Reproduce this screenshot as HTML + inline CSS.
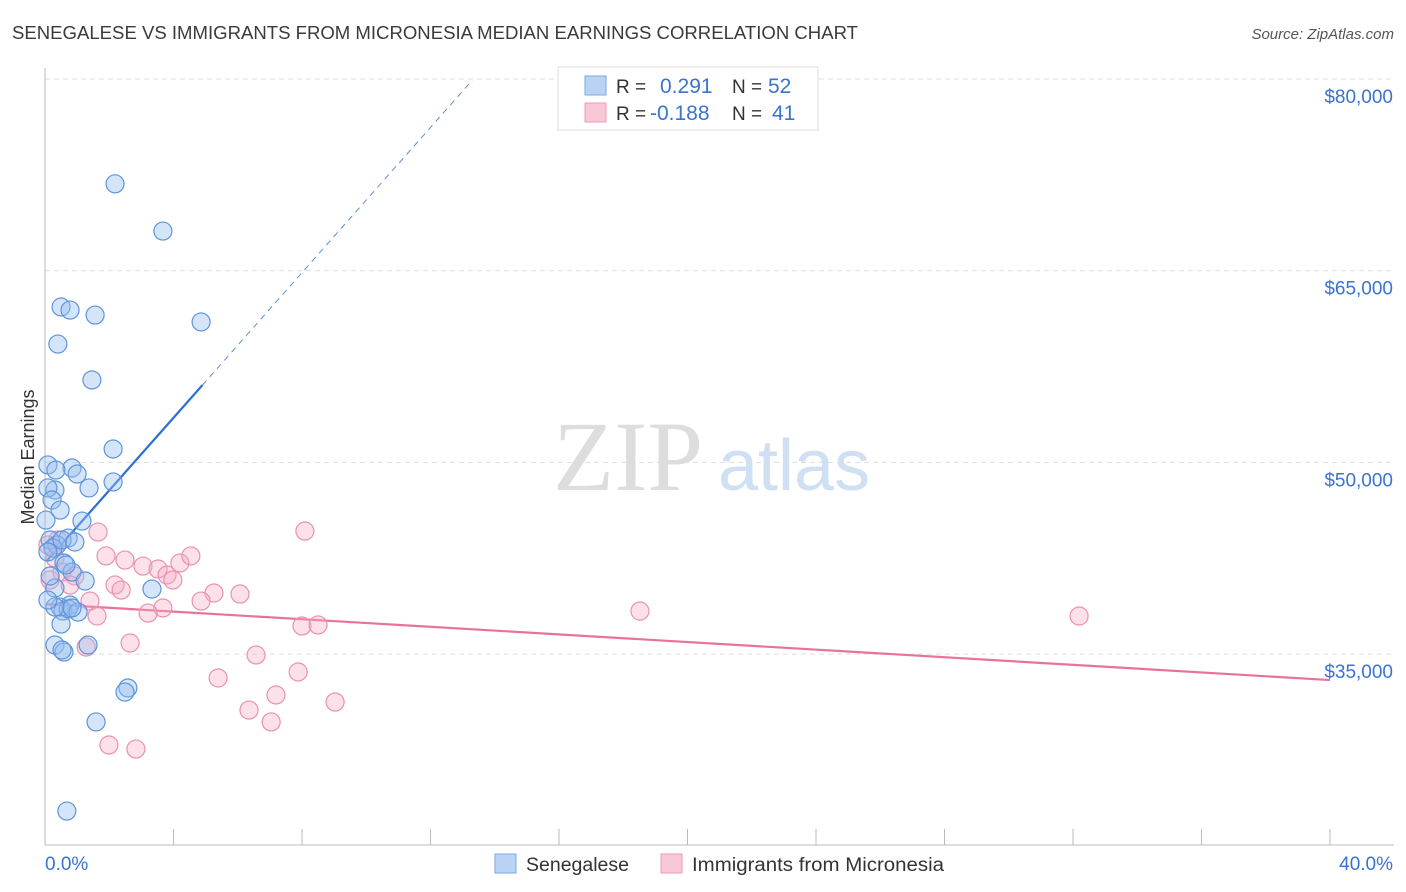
<!DOCTYPE html>
<html><head><meta charset="utf-8"><style>
body{margin:0;background:#fff;font-family:"Liberation Sans",sans-serif;}
svg{display:block}
</style></head><body>
<svg id="chart" width="1406" height="892" xmlns="http://www.w3.org/2000/svg">
<text x="12" y="39" font-size="18" fill="#3a3a3a" textLength="846" lengthAdjust="spacingAndGlyphs">SENEGALESE VS IMMIGRANTS FROM MICRONESIA MEDIAN EARNINGS CORRELATION CHART</text>
<text x="1394" y="39" font-size="15" fill="#555" font-style="italic" text-anchor="end">Source: ZipAtlas.com</text>
<g>
<text x="553" y="490" font-size="100" font-family="Liberation Serif,serif" fill="#ddd">ZIP</text>
<text x="718" y="490" font-size="72" fill="#cfe0f4">atlas</text>
</g>
<g id="grid"></g>
<g id="axes"></g>
<text transform="translate(34,457) rotate(-90)" font-size="18" fill="#333" text-anchor="middle">Median Earnings</text>
<g id="lines"></g>
<g id="pts"></g>
<g>
<rect x="558" y="67" width="260" height="63" fill="#fff" stroke="#ddd"/>
<rect x="585" y="76" width="21" height="19" fill="#b9d3f5" stroke="#7aa8e6"/>
<rect x="585" y="103" width="21" height="19" fill="#f9c8d6" stroke="#ee9ab4"/>
<text x="616" y="93" font-size="19" fill="#333">R = </text>
<text x="660" y="93" font-size="21" fill="#3a73d0">0.291</text>
<text x="732" y="93" font-size="19" fill="#333">N = </text>
<text x="768" y="93" font-size="21" fill="#3a73d0">52</text>
<text x="616" y="120" font-size="19" fill="#333">R = </text>
<text x="650" y="120" font-size="21" fill="#3a73d0">-0.188</text>
<text x="732" y="120" font-size="19" fill="#333">N = </text>
<text x="772" y="120" font-size="21" fill="#3a73d0">41</text>
</g>
<g>
<rect x="495" y="854" width="21" height="19" fill="#b9d3f5" stroke="#7aa8e6"/>
<text x="526" y="871" font-size="19" fill="#333" textLength="103" lengthAdjust="spacingAndGlyphs">Senegalese</text>
<rect x="661" y="854" width="21" height="19" fill="#f9c8d6" stroke="#ee9ab4"/>
<text x="692" y="871" font-size="19" fill="#333" textLength="252" lengthAdjust="spacingAndGlyphs">Immigrants from Micronesia</text>
</g>
</svg>
<script>
const blueX=[2.18,3.67,0.50,0.78,1.56,4.86,0.40,1.46,2.12,0.09,0.84,1.00,2.12,0.31,1.37,0.09,0.22,0.47,1.15,0.16,0.72,0.37,0.25,0.09,0.59,0.84,1.25,0.31,3.33,0.47,0.78,0.56,0.72,1.03,0.31,0.50,0.31,1.34,0.59,0.53,2.58,2.49,1.59,0.68,0.16,0.03,0.34,0.53,0.93,0.65,0.09,0.84];
const blueY=[71800,68100,62160,61920,61530,60990,59260,56450,51050,49800,49560,49090,48470,47840,48000,48000,47060,46270,45410,43930,44080,43540,43300,42990,42130,41420,40720,40170,40090,38680,38840,38370,38530,38290,38680,37350,35710,35710,35160,35320,32350,32030,29690,22720,41110,45490,49400,43930,43770,41970,39230,38610];
const pinkX=[1.65,8.09,1.90,2.49,3.05,3.52,4.20,4.54,3.80,3.98,2.18,2.37,5.26,6.07,4.86,1.40,3.67,3.21,1.62,18.52,32.19,8.00,8.50,2.65,1.28,6.57,5.39,7.88,7.19,6.35,9.03,7.04,1.99,2.83,0.31,0.09,0.53,0.93,0.16,0.40,0.78];
const pinkY=[44550,44630,42680,42360,41890,41660,42130,42680,41190,40800,40410,40010,39780,39700,39150,39150,38610,38210,37980,38370,37980,37200,37280,35870,35550,34930,33130,33600,31800,30620,31250,29690,27890,27570,42520,43540,41420,41110,40800,43930,40410];
const yTicks=[80000,65000,50000,35000];
const yTickLabels=["$80,000","$65,000","$50,000","$35,000"];
const xTickLabels=["0.0%","40.0%"];
const blueTrend=[42130,2840];
const pinkTrend=[38920,-148.75];
const NS="http://www.w3.org/2000/svg";
const X=v=>45+v*1285/40;
const Y=v=>79+(80000-v)*191.7/15000;
function mk(t,a,p){const e=document.createElementNS(NS,t);for(const k in a)e.setAttribute(k,a[k]);p.appendChild(e);return e;}
const grid=document.getElementById('grid'),axes=document.getElementById('axes');
yTicks.forEach((v,i)=>{
 const l=mk('line',{x1:45,x2:1394,y1:Y(v),y2:Y(v),stroke:'#ddd','stroke-dasharray':'5,4'},grid);
 
 
 const t=mk('text',{x:1393,y:Y(v)+24,'font-size':19,fill:'#3a73d0','text-anchor':'end'},axes);
 t.textContent=yTickLabels[i];
 
 
});
let a=mk('line',{x1:45,x2:45,y1:68,y2:845,stroke:'#bbb'},axes);


a=mk('line',{x1:45,x2:1394,y1:845,y2:845,stroke:'#bbb'},axes);


for(let i=1;i<=10;i++){const t=mk('line',{x1:X(i*4),x2:X(i*4),y1:829,y2:845,stroke:'#bbb'},axes);
 
 }
[0,40].forEach((v,i)=>{const t=mk('text',{x:i?1393:45,y:870,'font-size':19,fill:'#3a73d0','text-anchor':i?'end':'start'},axes);
 t.textContent=xTickLabels[i];
 
 });
const lines=document.getElementById('lines');
const bt=x=>blueTrend[0]+blueTrend[1]*x, pt=x=>pinkTrend[0]+pinkTrend[1]*x;
let l=mk('line',{x1:X(4.9),y1:Y(bt(4.9)),x2:X(13.3),y2:Y(bt(13.3)),stroke:'#5a8fd8','stroke-width':1,'stroke-dasharray':'6,5'},lines);


l=mk('line',{x1:X(0.05),y1:Y(bt(0.05)),x2:X(4.9),y2:Y(bt(4.9)),stroke:'#2e6fd6','stroke-width':2.2},lines);


l=mk('line',{x1:X(0.05),y1:Y(pt(0.05)),x2:X(40),y2:Y(pt(40)),stroke:'#e8739a','stroke-width':2.2},lines);


const pts=document.getElementById('pts');
pinkX.forEach((x,i)=>{const c=mk('circle',{cx:X(x),cy:Y(pinkY[i]),r:9,fill:'rgba(245,170,196,0.35)',stroke:'#ea91ae','stroke-width':1.2},pts);
 
 });
blueX.forEach((x,i)=>{const c=mk('circle',{cx:X(x),cy:Y(blueY[i]),r:9,fill:'rgba(150,190,240,0.4)',stroke:'#5e94dc','stroke-width':1.2},pts);
 
 });
</script>
</body></html>
